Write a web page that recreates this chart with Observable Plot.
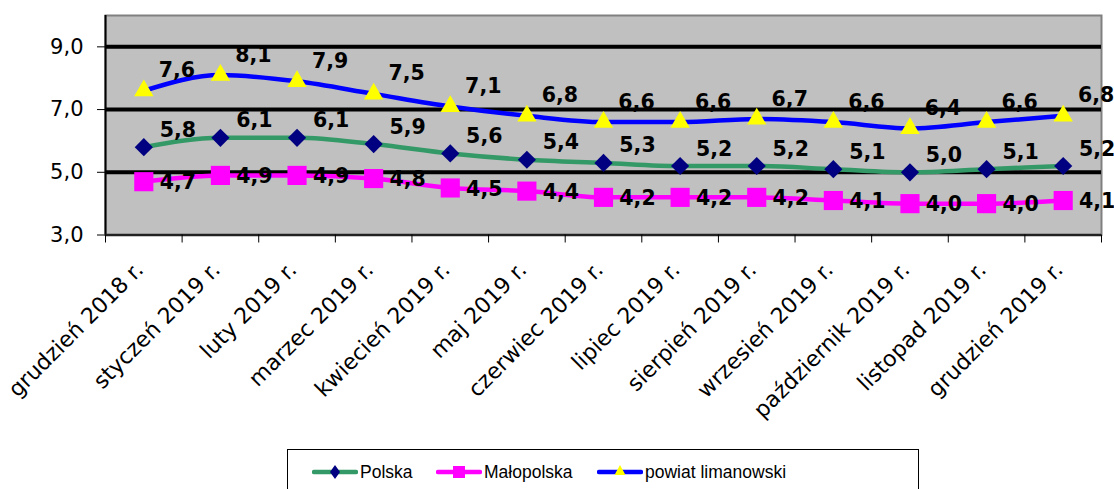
<!DOCTYPE html>
<html>
<head>
<meta charset="utf-8">
<script src="https://cdn.jsdelivr.net/npm/d3@7"></script>
<script src="https://cdn.jsdelivr.net/npm/@observablehq/plot@0.6"></script>
<style>
  html, body { margin: 0; padding: 0; background: #fff; width: 1114px; height: 489px; overflow: hidden; position: relative; }
  #chart { position: absolute; left: 0; top: 0; }
  #legend { position: absolute; left: 287px; top: 449px; width: 632px; height: 50px; border: 1px solid #000; box-sizing: border-box; background: #fff; font-family: "Liberation Sans", Arial, sans-serif; font-size: 17.5px; }
  .item { position: absolute; top: 10px; height: 24px; display: flex; align-items: center; }
  .item svg { display: block; margin-right: 2px; }
</style>
</head>
<body>
<div id="chart"></div>
<div id="legend"></div>
<script>
const months = ["grudzień 2018 r.", "styczeń 2019 r.", "luty 2019 r.", "marzec 2019 r.", "kwiecień 2019 r.", "maj 2019 r.", "czerwiec 2019 r.", "lipiec 2019 r.", "sierpień 2019 r.", "wrzesień 2019 r.", "październik 2019 r.", "listopad 2019 r.", "grudzień 2019 r."];
const polska = [5.8, 6.1, 6.1, 5.9, 5.6, 5.4, 5.3, 5.2, 5.2, 5.1, 5.0, 5.1, 5.2];
const malopolska = [4.7, 4.9, 4.9, 4.8, 4.5, 4.4, 4.2, 4.2, 4.2, 4.1, 4.0, 4.0, 4.1];
const powiat = [7.6, 8.1, 7.9, 7.5, 7.1, 6.8, 6.6, 6.6, 6.7, 6.6, 6.4, 6.6, 6.8];
const seriesNames = ["Polska", "Małopolska", "powiat limanowski"];
const yTicks = [3, 5, 7, 9];
const gridValues = [5, 7, 9];

const fmt = v => v.toFixed(1).replace(".", ",");
const rows = arr => arr.map((v, i) => ({i, v}));
const P = rows(polska), M = rows(malopolska), W = rows(powiat);

const font = "DejaVu Sans, sans-serif";
const boundaries = d3.range(months.length + 1).map(k => k - 0.5);
const labelStyle = {fontSize: 20.5, fontWeight: "bold", fill: "#000"};

const chart = Plot.plot({
  width: 1114,
  height: 440,
  marginLeft: 105,
  marginRight: 13,
  marginTop: 15,
  marginBottom: 205.5,
  style: {fontFamily: font, background: "transparent"},
  x: {type: "linear", domain: [-0.5, months.length - 0.5], axis: null},
  y: {domain: [3, 10], axis: null},
  marks: [
    Plot.frame({fill: "#C0C0C0", stroke: "#808080", strokeWidth: 2}),
    Plot.ruleY(gridValues, {stroke: "#000", strokeWidth: 4}),
    Plot.ruleX([-0.5], {stroke: "#000", strokeWidth: 2}),
    Plot.ruleY([3], {stroke: "#222", strokeWidth: 2.5}),
    Plot.axisY({ticks: yTicks, tickFormat: fmt, tickSize: 8, tickPadding: 14, fontSize: 21, fill: "#000", stroke: "#000", label: null}),
    Plot.axisX({ticks: boundaries, tickFormat: () => "", tickSize: 8, stroke: "#000", label: null}),
    Plot.axisX({ticks: d3.range(months.length), tickFormat: i => months[i], tickSize: 0, tickPadding: 31, dx: -4, tickRotate: -45, textAnchor: "end", lineAnchor: "middle", fontSize: 22, fill: "#000", label: null}),
    Plot.line(P, {x: "i", y: "v", stroke: "#339966", strokeWidth: 4.5, curve: "monotone-x"}),
    Plot.dot(P, {x: "i", y: "v", symbol: "diamond2", r: 8.2, fill: "#000080", stroke: "none"}),
    Plot.line(M, {x: "i", y: "v", stroke: "#FF00FF", strokeWidth: 4.5, curve: "monotone-x"}),
    Plot.dot(M, {x: "i", y: "v", symbol: "square", r: 10.8, fill: "#FF00FF", stroke: "none"}),
    Plot.line(W, {x: "i", y: "v", stroke: "#0000FF", strokeWidth: 4.5, curve: "monotone-x"}),
    Plot.dot(W, {x: "i", y: "v", symbol: "triangle", r: 7.2, fill: "#FFFF00", stroke: "none"}),
    Plot.text(P, {x: "i", y: "v", text: d => fmt(d.v), dx: 34, dy: -17, ...labelStyle}),
    Plot.text(M, {x: "i", y: "v", text: d => fmt(d.v), dx: 34, dy: 1, ...labelStyle}),
    Plot.text(W, {x: "i", y: "v", text: d => fmt(d.v), dx: 33, dy: -20, ...labelStyle})
  ]
});
document.getElementById("chart").appendChild(chart);

// Legend
const legendSpec = [
  {name: seriesNames[0], left: 24, line: "#339966", marker: "diamond"},
  {name: seriesNames[1], left: 148, line: "#FF00FF", marker: "square"},
  {name: seriesNames[2], left: 309, line: "#0000FF", marker: "triangle"}
];
const legend = document.getElementById("legend");
for (const s of legendSpec) {
  const item = document.createElement("div");
  item.className = "item";
  item.style.left = s.left + "px";
  let mk = "";
  if (s.marker === "diamond") mk = `<path d="M23,5 L28,12 L23,19 L18,12 Z" fill="#000080"/>`;
  if (s.marker === "square") mk = `<rect x="17" y="6" width="12" height="12" fill="#FF00FF"/>`;
  if (s.marker === "triangle") mk = `<path d="M23,5 L28.5,15 L17.5,15 Z" fill="#FFFF00"/>`;
  item.innerHTML = `<svg width="46" height="24"><line x1="2" x2="44" y1="12" y2="12" stroke="${s.line}" stroke-width="4.5" stroke-linecap="round"/>${mk}</svg><span>${s.name}</span>`;
  legend.appendChild(item);
}
</script>
</body>
</html>
